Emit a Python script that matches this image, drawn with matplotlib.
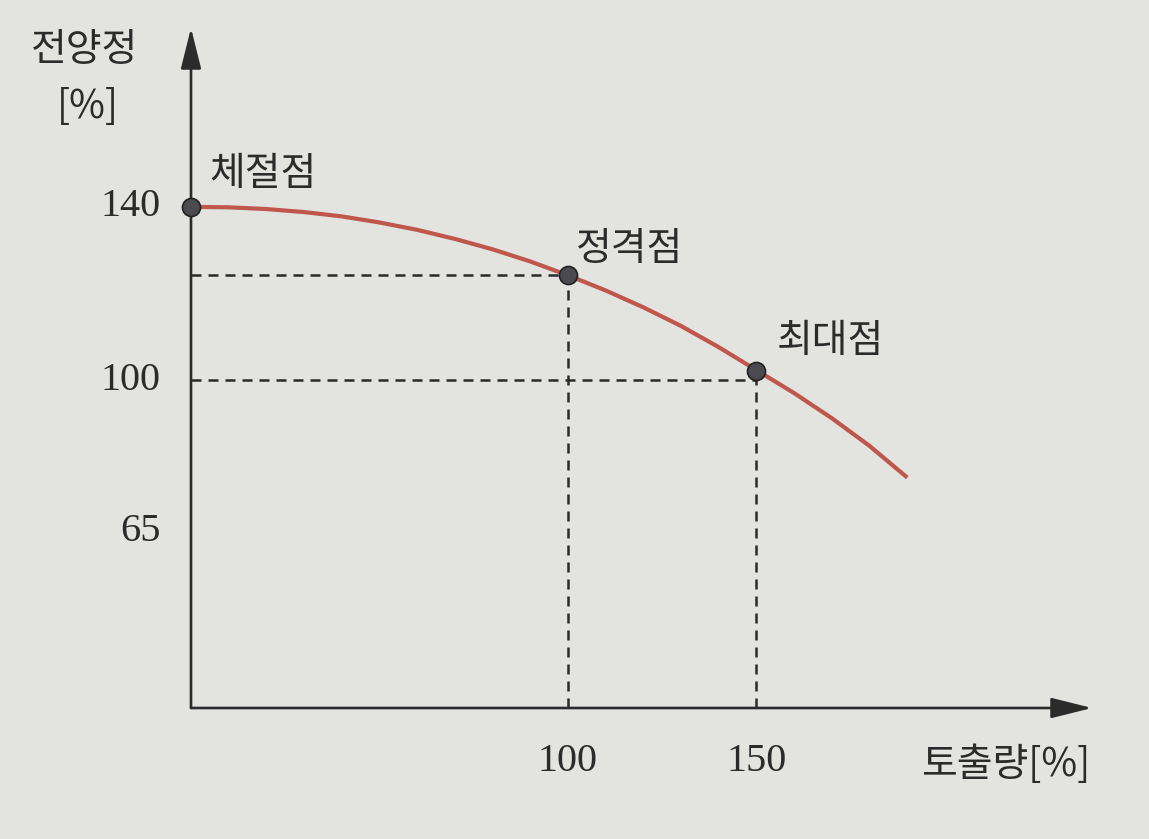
import matplotlib.pyplot as plt

plt.rcParams['font.family'] = ['Noto Sans CJK KR', 'DejaVu Sans']

# curve (discharge %, head %)
flow = [0, 10, 20, 30, 40, 50, 60, 70, 80, 90, 100, 110, 120, 130, 140, 150, 160, 170, 180, 190]
head = [140, 139.9, 139.5, 138.8, 137.8, 136.4, 134.7, 132.6, 130.2, 127.4, 124.2,
        120.7, 116.8, 112.5, 107.6, 102.3, 97.0, 91.2, 84.8, 77.5]

# marked points
pt_x = [0, 100, 150]
pt_y = [140, 124.2, 102]
pt_labels = ["체절점", "정격점", "최대점"]

yticks = [140, 100, 65]
xticks = [100, 150]

bg = "#e3e3df"
ink = "#2b2b2b"
num_font = "Liberation Serif"

fig = plt.figure(figsize=(11.49, 8.39), dpi=100, facecolor=bg)
ax = fig.add_axes([191 / 1149, 131 / 839, 901 / 1149, 680 / 839])
ax.set_facecolor(bg)
ax.set_xlim(0, 239)
ax.set_ylim(24.3, 181.3)
for s in ax.spines.values():
    s.set_visible(False)
ax.set_xticks([])
ax.set_yticks([])

# axes with arrows
arrow = dict(arrowstyle="-|>,head_length=1.4,head_width=0.35", color=ink, lw=1.9,
             mutation_scale=18, shrinkA=0, shrinkB=0)
ax.annotate("", xy=(1, 0), xytext=(0, 0), xycoords="axes fraction", arrowprops=arrow)
ax.annotate("", xy=(0, 1), xytext=(0, 0), xycoords="axes fraction", arrowprops=arrow)

# dashed guide lines
dash = dict(color=ink, lw=1.8, ls=(0, (4, 2.8)))
ax.plot([0, pt_x[1]], [pt_y[1], pt_y[1]], **dash)
ax.plot([pt_x[1], pt_x[1]], [24.3, pt_y[1]], **dash)
ax.plot([0, pt_x[2]], [100, 100], **dash)
ax.plot([pt_x[2], pt_x[2]], [24.3, pt_y[2]], **dash)

# curve and points
ax.plot(flow, head, color="#c0574c", lw=3.0, solid_capstyle="butt")
ax.plot(pt_x, pt_y, "o", ms=13, mfc="#4a4a50", mec="#222222", mew=1.2, clip_on=False, zorder=5)

# point labels
ax.text(pt_x[0] + 5, pt_y[0] + 7.5, pt_labels[0], fontsize=28, color=ink, va="center", ha="left")
ax.text(pt_x[1] + 2, pt_y[1] + 6, pt_labels[1], fontsize=28, color=ink, va="center", ha="left")
ax.text(pt_x[2] + 5.5, pt_y[2] + 7, pt_labels[2], fontsize=28, color=ink, va="center", ha="left")

# tick labels
for v in yticks:
    ax.text(-8, v, str(v), fontsize=29, family=num_font, color=ink, ha="right", va="center",
            clip_on=False)
for v in xticks:
    ax.text(v, 12, str(v), fontsize=29, family=num_font, color=ink, ha="center", va="center",
            clip_on=False)

# axis titles
fig.text(85 / 1149, 1 - 50 / 839, "전양정", fontsize=28, color=ink, ha="center", va="center")
fig.text(88 / 1149, 1 - 107 / 839, "[%]", fontsize=28, color=ink, ha="center", va="center")
fig.text(1006 / 1149, 1 - 765 / 839, "토출량[%]", fontsize=28, color=ink, ha="center", va="center")

fig.savefig("out.png", dpi=100, facecolor=bg)
